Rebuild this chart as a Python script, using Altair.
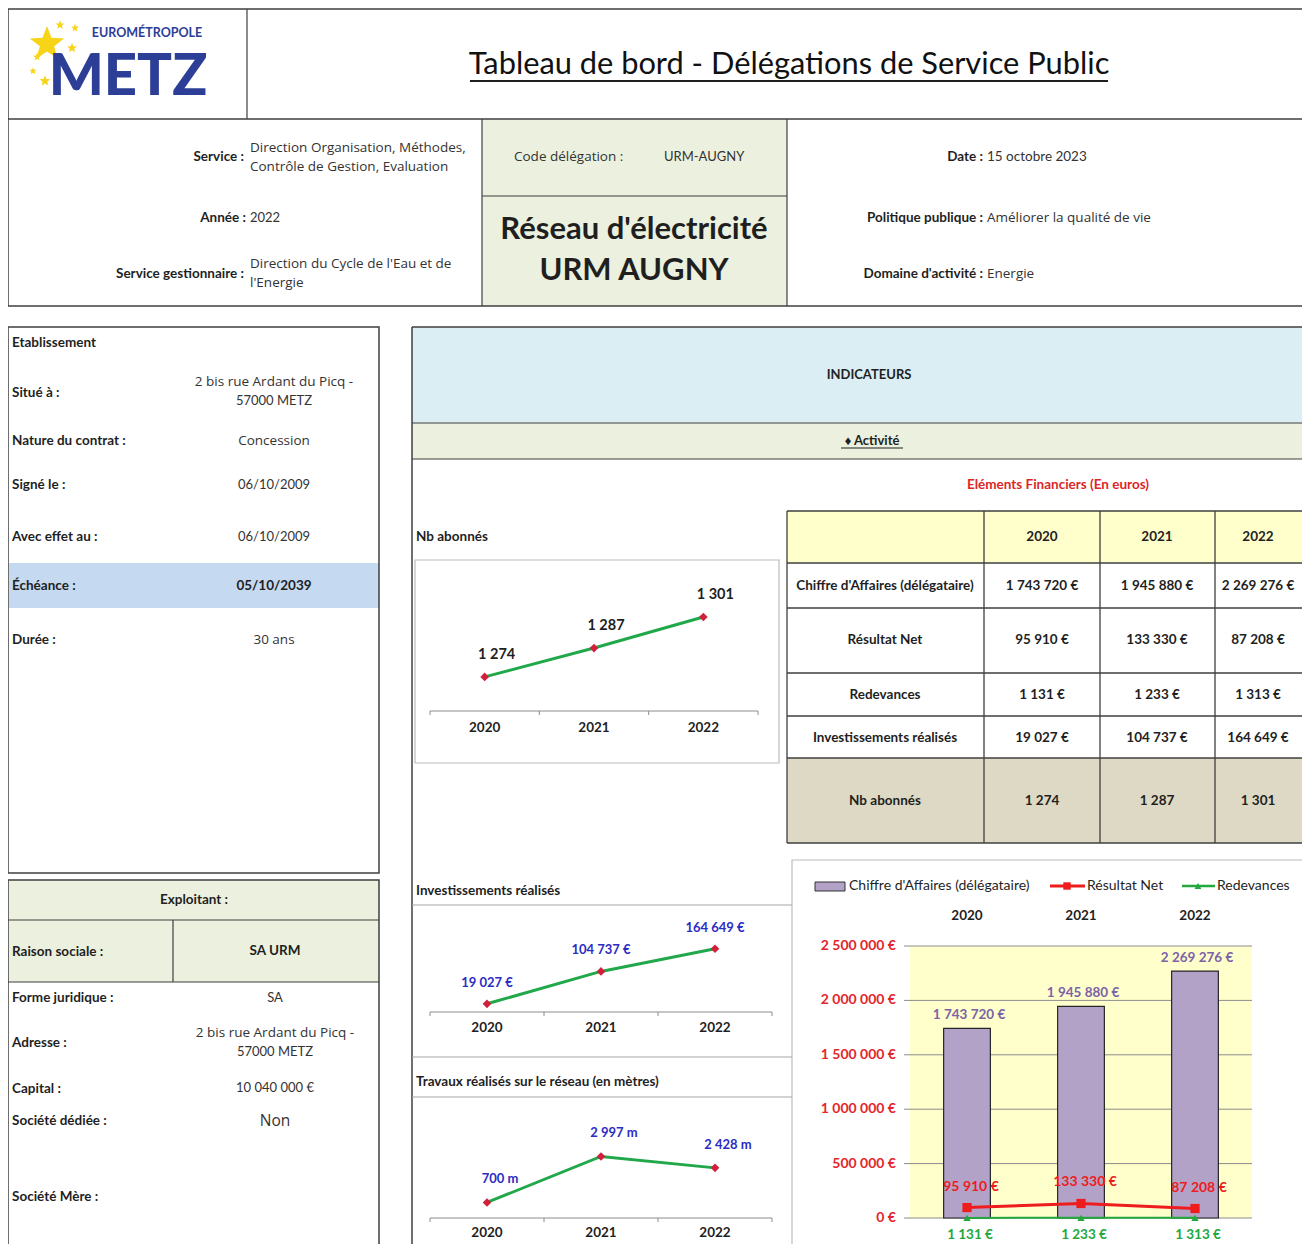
import math
import altair as alt
import pandas as pd

# ---------------- data ----------------
years = ["2020", "2021", "2022"]
abonnes = [1274, 1287, 1301]
investissements = [19027, 104737, 164649]
travaux_m = [700, 2997, 2428]
chiffre_affaires = [1743720, 1945880, 2269276]
resultat_net = [95910, 133330, 87208]
redevances = [1131, 1233, 1313]
ca_axis_ticks = [0, 500000, 1000000, 1500000, 2000000, 2500000]
table_rows = ["Chiffre d'Affaires (délégataire)", "Résultat Net", "Redevances",
              "Investissements réalisés", "Nb abonnés"]

# ---------------- style / layout ----------------
W, H = 1294, 1236
OX = OY = 8
FONT = "Lato"
WIDE = "Open Sans"
DARK = "#1f1f1f"
TXT = "#333333"
BORDER = "#3f3f3f"
LIGHTB = "#bcbcbc"
GREENBOX = "#ebf1de"
BLUEBOX = "#daeef3"
ECHE = "#c5d9f1"
YEL = "#ffffcc"
BEIGE = "#ddd9c4"
LOGO = "#2d3e96"
STARC = "#f7d417"
GREEN = "#20a84a"
DIAMOND = "#d0203c"
BLUELAB = "#2c2cc4"
PURPLE = "#b3a2c7"
PURPLAB = "#7c62a6"
RED = "#ee1c1c"
REDAX = "#e3262c"
GREEN2 = "#22a83c"
GRID = "#8c8c8c"
AXIS = "#8c8c8c"


def fr(n):
    return f"{n:,}".replace(",", " ")


def eur(n):
    return fr(n) + " €"


def sx():
    return alt.Scale(domain=[OX, OX + W], range=[0, W], nice=False, zero=False)


def sy():
    return alt.Scale(domain=[OY, OY + H], range=[0, H], nice=False, zero=False)


def rect_layer(rows):
    df = pd.DataFrame(rows, columns=["x", "x2", "y", "y2", "fill", "stroke", "sw"])
    return alt.Chart(df).mark_rect().encode(
        x=alt.X("x:Q", scale=sx(), axis=None), x2="x2:Q",
        y=alt.Y("y:Q", scale=sy(), axis=None), y2="y2:Q",
        fill=alt.Fill("fill:N", scale=None),
        stroke=alt.Stroke("stroke:N", scale=None),
        strokeWidth=alt.StrokeWidth("sw:Q", scale=None),
    )


def rule_layer(rows):
    df = pd.DataFrame(rows, columns=["x", "y", "x2", "y2", "c", "sw"])
    return alt.Chart(df).mark_rule().encode(
        x=alt.X("x:Q", scale=sx(), axis=None), x2="x2:Q",
        y=alt.Y("y:Q", scale=sy(), axis=None), y2="y2:Q",
        color=alt.Color("c:N", scale=None),
        strokeWidth=alt.StrokeWidth("sw:Q", scale=None),
    )


def text_layer(rows, align="left", weight="normal", baseline="middle", font=FONT):
    df = pd.DataFrame(rows, columns=["x", "y", "t", "s", "c"])
    return alt.Chart(df).mark_text(align=align, baseline=baseline, fontWeight=weight, font=font).encode(
        x=alt.X("x:Q", scale=sx(), axis=None),
        y=alt.Y("y:Q", scale=sy(), axis=None),
        text="t:N",
        size=alt.Size("s:Q", scale=None),
        color=alt.Color("c:N", scale=None),
    )


def point_layer(rows):
    df = pd.DataFrame(rows, columns=["x", "y", "shape", "size", "c"])
    return alt.Chart(df).mark_point(filled=True, opacity=1).encode(
        x=alt.X("x:Q", scale=sx(), axis=None),
        y=alt.Y("y:Q", scale=sy(), axis=None),
        shape=alt.Shape("shape:N", scale=None),
        size=alt.Size("size:Q", scale=None),
        color=alt.Color("c:N", scale=None),
    )


_pts = []
for i in range(10):
    r = 1.0 if i % 2 == 0 else 0.42
    a = math.radians(-90 + 36 * i)
    _pts.append(f"{r * math.cos(a):.3f},{r * math.sin(a):.3f}")
STAR = "M" + "L".join(_pts) + "Z"


def band(lo, hi):
    return alt.Scale(domain=years, range=[lo - OX, hi - OX], paddingInner=0, paddingOuter=0)


def lin(dom, rng):
    return alt.Scale(domain=dom, range=[rng[0] - OY, rng[1] - OY], nice=False, zero=False)


def line_panel(values, labels, x_lo, x_hi, dom, rng, axis_y, year_y, dx, dy, lab_color, lab_size):
    df = pd.DataFrame({"year": years, "v": values, "label": labels})
    xs = band(x_lo, x_hi)
    ys = lin(dom, rng)
    X = alt.X("year:N", scale=xs, axis=None)
    Y = alt.Y("v:Q", scale=ys, axis=None)
    base = alt.Chart(df)
    tick0 = base.mark_rule(color=AXIS, strokeWidth=1).encode(
        x=alt.X("year:N", scale=xs, axis=None, bandPosition=0),
        y=alt.value(axis_y - OY), y2=alt.value(axis_y + 4 - OY))
    tick1 = alt.Chart(df.tail(1)).mark_rule(color=AXIS, strokeWidth=1).encode(
        x=alt.X("year:N", scale=xs, axis=None, bandPosition=1),
        y=alt.value(axis_y - OY), y2=alt.value(axis_y + 4 - OY))
    line = base.mark_line(color=GREEN, strokeWidth=3).encode(x=X, y=Y)
    pts = base.mark_point(shape="diamond", filled=True, color=DIAMOND, size=75, opacity=1).encode(x=X, y=Y)
    lab = base.mark_text(dx=dx, dy=dy, fontWeight="bold", font=FONT, fontSize=lab_size, color=lab_color).encode(
        x=X, y=Y, text="label:N")
    yr = base.mark_text(fontWeight="bold", font=FONT, fontSize=13.5, color=DARK).encode(
        x=X, y=alt.value(year_y - OY), text="year:N")
    return alt.layer(tick0, tick1, line, pts, lab, yr)


# ---------------- background fills / boxes ----------------
fills = rect_layer([
    (482, 787, 119, 196, GREENBOX, "transparent", 0),
    (482, 787, 196, 306, GREENBOX, "transparent", 0),
    (9, 379, 563, 608, ECHE, "transparent", 0),
    (412, 1320, 327, 423, BLUEBOX, "transparent", 0),
    (412, 1320, 423, 459, GREENBOX, "transparent", 0),
    (8, 379, 880, 920, GREENBOX, "transparent", 0),
    (8, 379, 920, 982, GREENBOX, "transparent", 0),
    (787, 1331, 511, 563, YEL, "transparent", 0),
    (787, 1331, 758, 843, BEIGE, "transparent", 0),
    (910, 1252, 946, 1218, YEL, "transparent", 0),
    (415, 779, 560, 763, "transparent", LIGHTB, 1.2),
    (792, 1330, 860, 1262, "transparent", LIGHTB, 1.2),
    (8, 379, 327, 873, "transparent", BORDER, 1.5),
    (8, 379, 880, 1262, "transparent", BORDER, 1.5),
    (815, 845, 882, 891, PURPLE, "#333333", 1),
])

lines = rule_layer([
    (8, 9, 1320, 9, BORDER, 1.5),
    (8, 119, 1320, 119, BORDER, 1.5),
    (8, 306, 1320, 306, BORDER, 1.5),
    (8, 9, 8, 306, BORDER, 1.5),
    (247, 9, 247, 119, BORDER, 1.2),
    (482, 119, 482, 306, BORDER, 1.2),
    (787, 119, 787, 306, BORDER, 1.2),
    (482, 196, 787, 196, BORDER, 1.2),
    (8, 920, 379, 920, BORDER, 1.2),
    (8, 982, 379, 982, BORDER, 1.2),
    (173, 920, 173, 982, BORDER, 1.2),
    (412, 327, 1320, 327, BORDER, 1.5),
    (412, 327, 412, 1262, BORDER, 1.5),
    (412, 423, 1320, 423, BORDER, 1.2),
    (412, 459, 1320, 459, BORDER, 1.2),
    (412, 905, 792, 905, "#a6a6a6", 1.2),
    (412, 1057, 792, 1057, "#a6a6a6", 1.2),
    (412, 1097, 792, 1097, "#a6a6a6", 1.2),
    # table grid
    (787, 511, 787, 843, BORDER, 1.3),
    (984, 511, 984, 843, BORDER, 1.3),
    (1100, 511, 1100, 843, BORDER, 1.3),
    (1215, 511, 1215, 843, BORDER, 1.3),
    (787, 511, 1320, 511, BORDER, 1.3),
    (787, 563, 1320, 563, BORDER, 1.3),
    (787, 608, 1320, 608, BORDER, 1.3),
    (787, 673, 1320, 673, BORDER, 1.3),
    (787, 716, 1320, 716, BORDER, 1.3),
    (787, 758, 1320, 758, BORDER, 1.3),
    (787, 843, 1320, 843, BORDER, 1.3),
    # underlines
    (470, 81, 1108, 81, DARK, 1.8),
    (841, 448, 903, 448, DARK, 1),
    # chart axis lines
    (430, 711, 758, 711, AXIS, 1),
    (430, 1012, 772, 1012, AXIS, 1),
    (430, 1218, 772, 1218, AXIS, 1),
    # legend lines
    (1050, 886, 1085, 886, RED, 3),
    (1182, 886, 1215, 886, GREEN2, 2.5),
])

marks = point_layer([
    (47, 44, STAR, 1300, STARC),
    (60, 25, STAR, 90, STARC),
    (75, 28, STAR, 70, STARC),
    (72, 48, STAR, 110, STARC),
    (37, 57, STAR, 70, STARC),
    (33, 71, STAR, 60, STARC),
    (45, 81, STAR, 130, STARC),
    (1067, 886, "square", 55, RED),
    (1198, 886, "triangle-up", 45, GREEN2),
])

SB = 13.5   # bold labels
SV = 13.5   # letter-spaced values (wide font)
SN = 13     # numbers

texts_bold_right = text_layer([
    (244, 157, "Service :", SB, DARK),
    (246, 218, "Année :", SB, DARK),
    (244, 274, "Service gestionnaire :", SB, DARK),
    (983, 157, "Date :", SB, DARK),
    (983, 218, "Politique publique :", SB, DARK),
    (983, 274, "Domaine d'activité :", SB, DARK),
], align="right", weight="bold")

texts_wide_left = text_layer([
    (250, 148, "Direction Organisation, Méthodes,", SV, TXT),
    (250, 167, "Contrôle de Gestion, Evaluation", SV, TXT),
    (250, 264, "Direction du Cycle de l'Eau et de", SV, TXT),
    (250, 283, "l'Energie", SV, TXT),
    (514, 157, "Code délégation :", SV, TXT),
    (987, 218, "Améliorer la qualité de vie", SV, TXT),
    (987, 274, "Energie", SV, TXT),
], font=WIDE)

texts_left = text_layer([
    (250, 218, "2022", SN, TXT),
    (664, 157, "URM-AUGNY", SN, TXT),
    (987, 157, "15 octobre 2023", 13.5, TXT),
    (849, 886, "Chiffre d'Affaires (délégataire)", 14, DARK),
    (1087, 886, "Résultat Net", 14, DARK),
    (1217, 886, "Redevances", 14, DARK),
])

texts_bold_left = text_layer([
    (12, 343, "Etablissement", SB, DARK),
    (12, 393, "Situé à :", SB, DARK),
    (12, 441, "Nature du contrat  :", SB, DARK),
    (12, 485, "Signé le :", SB, DARK),
    (12, 537, "Avec effet au :", SB, DARK),
    (12, 586, "Échéance :", SB, DARK),
    (12, 640, "Durée :", SB, DARK),
    (12, 952, "Raison sociale :", SB, DARK),
    (12, 998, "Forme juridique :", SB, DARK),
    (12, 1043, "Adresse :", SB, DARK),
    (12, 1089, "Capital :", SB, DARK),
    (12, 1121, "Société dédiée :", SB, DARK),
    (12, 1197, "Société Mère :", SB, DARK),
    (416, 537, "Nb abonnés", SB, DARK),
    (416, 891, "Investissements réalisés", SB, DARK),
    (416, 1082, "Travaux réalisés sur le réseau (en mètres)", SB, DARK),
], weight="bold")

texts_wide_center = text_layer([
    (274, 382, "2 bis rue Ardant du Picq -", SV, TXT),
    (274, 441, "Concession", SV, TXT),
    (274, 640, "30 ans", SV, TXT),
    (275, 1033, "2 bis rue Ardant du Picq -", SV, TXT),
    (275, 1121, "Non", 15.5, TXT),
], align="center", font=WIDE)

texts_center = text_layer([
    (274, 401, "57000 METZ", SN, TXT),
    (274, 485, "06/10/2009", SN, TXT),
    (274, 537, "06/10/2009", SN, TXT),
    (275, 998, "SA", SN, TXT),
    (275, 1052, "57000 METZ", SN, TXT),
    (275, 1088, "10 040 000 €", SN, TXT),
    (789, 65, "Tableau de bord - Délégations de Service Public", 30.8, "#111111"),
], align="center")

texts_bold_center = text_layer([
    (274, 586, "05/10/2039", 13.5, DARK),
    (194, 900, "Exploitant :", SB, DARK),
    (275, 951, "SA URM", SB, DARK),
    (634, 230, "Réseau d'électricité", 31, DARK),
    (634, 271, "URM AUGNY", 31, DARK),
    (869, 375, "INDICATEURS", 13, DARK),
    (872, 441, "♦ Activité", 13, DARK),
    (1058, 485, "Eléments Financiers  (En euros)", SB, "#dc2626"),
    (885, 586, table_rows[0], SB, DARK),
    (885, 640, table_rows[1], SB, DARK),
    (885, 695, table_rows[2], SB, DARK),
    (885, 738, table_rows[3], SB, DARK),
    (885, 801, table_rows[4], SB, DARK),
    (147, 33, "EUROMÉTROPOLE", 12.5, LOGO),
], align="center", weight="bold")

logo_big = text_layer([(128, 95, "METZ", 58, LOGO)], align="center", weight=900, baseline="alphabetic")

# ---------------- table values ----------------
# column centres of the table grid (last column is cut by the page edge)
col_x = {"2020": 1042, "2021": 1157, "2022": 1258}
row_y = [586, 640, 695, 738, 801]
series = [chiffre_affaires, resultat_net, redevances, investissements, abonnes]
units = [True, True, True, True, False]
cells = [{"x": col_x[y], "y": 537, "t": y} for y in years]
for vals, unit, yy in zip(series, units, row_y):
    for yr, v in zip(years, vals):
        cells.append({"x": col_x[yr], "y": yy, "t": eur(v) if unit else fr(v)})
table = alt.Chart(pd.DataFrame(cells)).mark_text(fontWeight="bold", font=FONT, fontSize=13.5, color=DARK).encode(
    x=alt.X("x:Q", scale=sx(), axis=None),
    y=alt.Y("y:Q", scale=sy(), axis=None),
    text="t:N",
)

# ---------------- line charts ----------------
ch_abonnes = line_panel(abonnes, [fr(v) for v in abonnes], 430, 758, [1260, 1310], [708, 597],
                        711, 728, 12, -22, DARK, 14.5)
ch_invest = line_panel(investissements, [eur(v) for v in investissements], 430, 772, [0, 200000], [1011, 935.4],
                       1012, 1028, 0, -21, BLUELAB, 13)
ch_travaux = line_panel(travaux_m, [fr(v) + " m" for v in travaux_m], 430, 772, [0, 3500], [1216.5, 1146.4],
                        1218, 1233, 13, -23, BLUELAB, 13)

# ---------------- bar chart ----------------
dfb = pd.DataFrame({
    "year": years,
    "ca": chiffre_affaires, "rn": resultat_net, "rd": redevances,
    "ca_l": [eur(v) for v in chiffre_affaires],
    "rn_l": [eur(v) for v in resultat_net],
    "rd_l": [eur(v) for v in redevances],
})
dft = pd.DataFrame({"v": ca_axis_ticks, "lab": [eur(v) for v in ca_axis_ticks]})
bxs = band(910, 1252)
bys = lin([0, 2500000], [1218, 946])
BX = alt.X("year:N", scale=bxs, axis=None)


def BY(f):
    return alt.Y(f"{f}:Q", scale=bys, axis=None)


grid = alt.Chart(dft).mark_rule(color=GRID, strokeWidth=1).encode(
    y=BY("v"), x=alt.value(904 - OX), x2=alt.value(1252 - OX))
ylabels = alt.Chart(dft).mark_text(align="right", fontWeight="bold", font=FONT, fontSize=14, color=REDAX).encode(
    y=BY("v"), x=alt.value(896 - OX), text="lab:N")
bars = alt.Chart(dfb).mark_bar(width={"band": 0.41}, color=PURPLE, stroke="#262626", strokeWidth=1.2).encode(
    x=BX, y=BY("ca"))
bar_lab = alt.Chart(dfb).mark_text(dy=-13, dx=2, fontWeight="bold", font=FONT, fontSize=13.5, color=PURPLAB).encode(
    x=BX, y=BY("ca"), text="ca_l:N")
rn_line = alt.Chart(dfb).mark_line(color=RED, strokeWidth=3).encode(x=BX, y=BY("rn"))
rn_pts = alt.Chart(dfb).mark_point(shape="square", filled=True, size=85, color=RED, opacity=1).encode(x=BX, y=BY("rn"))
rn_lab = alt.Chart(dfb).mark_text(dy=-21, dx=4, fontWeight="bold", font=FONT, fontSize=14, color=RED).encode(
    x=BX, y=BY("rn"), text="rn_l:N")
rd_line = alt.Chart(dfb).mark_line(color=GREEN2, strokeWidth=2).encode(x=BX, y=BY("rd"))
rd_pts = alt.Chart(dfb).mark_point(shape="triangle-up", filled=True, size=55, color=GREEN2, opacity=1).encode(
    x=BX, y=BY("rd"))
rd_lab = alt.Chart(dfb).mark_text(dy=17, dx=3, fontWeight="bold", font=FONT, fontSize=13.5, color=GREEN2).encode(
    x=BX, y=BY("rd"), text="rd_l:N")
bar_years = alt.Chart(dfb).mark_text(fontWeight="bold", font=FONT, fontSize=13.5, color=DARK).encode(
    x=BX, y=alt.value(916 - OY), text="year:N")
ch_bar = alt.layer(grid, ylabels, bars, bar_lab, rn_line, rn_pts, rn_lab, rd_line, rd_pts, rd_lab, bar_years)

chart = alt.layer(
    fills, ch_bar, lines, marks, table, ch_abonnes, ch_invest, ch_travaux,
    texts_bold_right, texts_wide_left, texts_left, texts_bold_left, texts_wide_center,
    texts_center, texts_bold_center, logo_big,
).resolve_scale(x="independent", y="independent").properties(
    width=W, height=H, padding=0, background="white",
    autosize=alt.AutoSizeParams(type="none"),
).configure_view(strokeWidth=0)

chart.save("out.html", embed_options={"renderer": "svg", "actions": False})
